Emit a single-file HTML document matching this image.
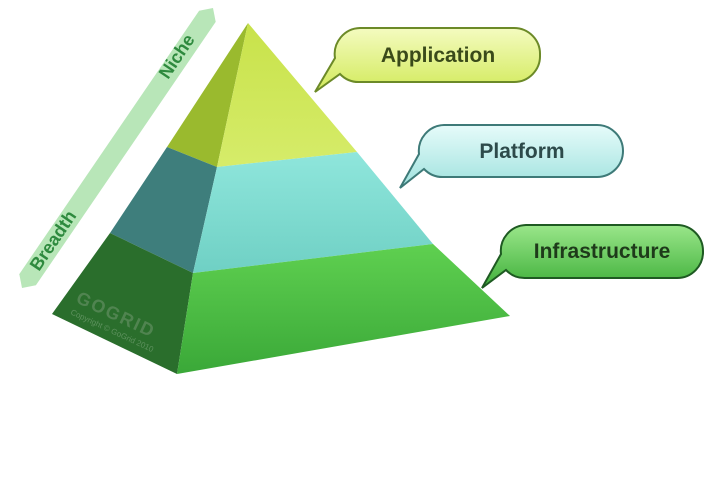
<!DOCTYPE html>
<html><head><meta charset="utf-8"><style>
html,body{margin:0;padding:0;background:#fff;}
svg{display:block;font-family:"Liberation Sans",sans-serif;}
</style></head><body>
<svg width="720" height="480" viewBox="0 0 720 480" xmlns="http://www.w3.org/2000/svg">
<defs>
<linearGradient id="ra" x1="0" y1="0" x2="0" y2="1"><stop offset="0" stop-color="#c8e24a"/><stop offset="1" stop-color="#d6ec6a"/></linearGradient>
<linearGradient id="rp" x1="0" y1="0" x2="0" y2="1"><stop offset="0" stop-color="#8fe6dc"/><stop offset="1" stop-color="#6fd0c4"/></linearGradient>
<linearGradient id="ri" x1="0" y1="0" x2="0" y2="1"><stop offset="0" stop-color="#5fd050"/><stop offset="1" stop-color="#3aa838"/></linearGradient>
<linearGradient id="ba" x1="0" y1="0" x2="0" y2="1"><stop offset="0" stop-color="#f4fbc0"/><stop offset="1" stop-color="#d2ea5a"/></linearGradient>
<linearGradient id="bp" x1="0" y1="0" x2="0" y2="1"><stop offset="0" stop-color="#e6fbfa"/><stop offset="1" stop-color="#9fe2de"/></linearGradient>
<linearGradient id="bi" x1="0" y1="0" x2="0" y2="1"><stop offset="0" stop-color="#9ae68a"/><stop offset="1" stop-color="#3fb03a"/></linearGradient>
</defs>
<!-- breadth arrow -->
<polygon points="22,288 35.9,285.3 215.7,21.9 213,8 199.1,10.7 19.3,274.1" fill="#b8e6b8"/>
<text transform="translate(39,272) rotate(-56)" font-size="18" font-weight="bold" fill="#2e8a3e" font-family="Liberation Sans Narrow, Liberation Sans, sans-serif">Breadth</text>
<text transform="translate(168,80) rotate(-56)" font-size="18" font-weight="bold" fill="#2e8a3e" font-family="Liberation Sans Narrow, Liberation Sans, sans-serif">Niche</text>
<!-- pyramid left face -->
<polygon points="248,23 167,147 217,167" fill="#9aba2e"/>
<polygon points="167,147 217,167 193,273 110,233" fill="#3e7e7c"/>
<polygon points="110,233 193,273 177,374 52,314" fill="#2a6e2c"/>
<!-- right face -->
<polygon points="248,23 217,167 357,152" fill="url(#ra)"/>
<polygon points="217,167 357,152 433,244 193,273" fill="url(#rp)"/>
<polygon points="193,273 433,244 510,316 177,374" fill="url(#ri)"/>
<text transform="translate(75,302) rotate(25)" font-size="18" font-weight="bold" fill="#5a8a5a" opacity="0.8" letter-spacing="2">GOGRID</text>
<text transform="translate(70,314) rotate(25)" font-size="8" fill="#6a9a6a" opacity="0.8">Copyright © GoGrid 2010</text>
<!-- bubbles -->
<path d="M360,28 H514 A26,26 0 0 1 540,55 A26,26 0 0 1 514,82 H360 A26,26 0 0 1 340,74 L315,92 L335,58 A26,26 0 0 1 360,28 Z" fill="url(#ba)" stroke="#6c8a28" stroke-width="2"/>
<text x="438" y="62" font-size="21" font-weight="bold" fill="#3a4a1a" text-anchor="middle" font-family="Liberation Sans Narrow, Liberation Sans, sans-serif">Application</text>
<path d="M444,125 H597 A26,26 0 0 1 623,151 A26,26 0 0 1 597,177 H444 A26,26 0 0 1 424,169 L400,188 L419,154 A26,26 0 0 1 444,125 Z" fill="url(#bp)" stroke="#3e7a78" stroke-width="2"/>
<text x="522" y="158" font-size="21" font-weight="bold" fill="#2d4a4a" text-anchor="middle" font-family="Liberation Sans Narrow, Liberation Sans, sans-serif">Platform</text>
<path d="M526,225 H677 A26,26 0 0 1 703,251 A26,26 0 0 1 677,278 H526 A26,26 0 0 1 506,270 L482,288 L501,254 A26,26 0 0 1 526,225 Z" fill="url(#bi)" stroke="#1e5a22" stroke-width="2"/>
<text x="602" y="258" font-size="21" font-weight="bold" fill="#1e3a1a" text-anchor="middle" font-family="Liberation Sans Narrow, Liberation Sans, sans-serif">Infrastructure</text>
</svg>
</body></html>
